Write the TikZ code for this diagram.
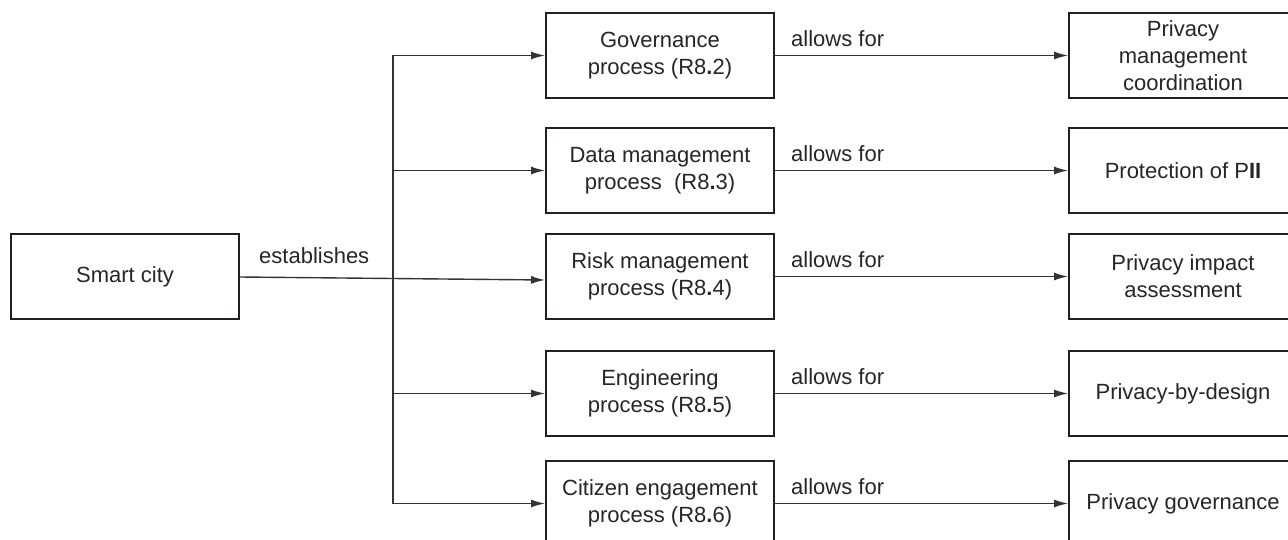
\documentclass[tikz,border=0pt]{standalone}
\usepackage{fontspec}
\setmainfont{Liberation Sans}
\usetikzlibrary{arrows.meta}
\definecolor{boxline}{HTML}{231F20}
\definecolor{arrline}{HTML}{333333}
\tikzset{
  box/.style={draw=boxline, line width=2pt, rectangle, minimum width=228pt, minimum height=85pt, inner sep=0pt, align=center, text=black!85},
  arr/.style={draw=arrline, line width=1.4pt, -{Latex[length=14pt,width=8pt]}},
  ln/.style={draw=arrline, line width=1.4pt},
  lbl/.style={anchor=base west, inner sep=0pt, text=black!85}
}
\begin{document}
\begin{tikzpicture}[x=1pt,y=-1pt,font=\fontsize{22}{26.8}\selectfont]
\clip (0,0) rectangle (1288,540);
\fill[white] (0,0) rectangle (1288,540);
% left box
\node[box] (sc) at (125,276.5) {Smart city};
% middle boxes
\node[box] (gov) at (660,55.5) {Governance\\process (R8{\bfseries .}2)};
\node[box] (dat) at (660,170.5) {Data management\\process\ \ (R8{\bfseries .}3)};
\node[box] (risk) at (660,276.5) {Risk management\\process (R8{\bfseries .}4)};
\node[box] (eng) at (660,393.5) {Engineering\\process (R8{\bfseries .}5)};
\node[box] (cit) at (660,503.5) {Citizen engagement\\process (R8{\bfseries .}6)};
% right boxes
\node[box] (pmc) at (1183,55.5) {Privacy\\management\\coordination};
\node[box] (pii) at (1183,170.5) {Protection of P{\bfseries II}};
\node[box] (pia) at (1183,276.5) {Privacy impact\\assessment};
\node[box] (pbd) at (1183,393.5) {Privacy-by-design};
\node[box] (pg) at (1183,503.5) {Privacy governance};
% trunk
\coordinate (ttop) at (393,55.5);
\coordinate (tbot) at (393,503.5);
\draw[ln] (ttop) -- (tbot);
\draw[arr] (ttop) -- (gov.west);
\draw[arr] (393,170.5) -- (dat.west);
\draw[arr] (393,393.5) -- (eng.west);
\draw[arr] (tbot) -- (cit.west);
\draw[arr] ([yshift=-0.5pt]sc.east) -- ([yshift=-3.5pt]risk.west);
\node[lbl] (est) at (259,264) {establishes};
% right arrows
\draw[arr] (gov.east) -- (pmc.west);
\draw[arr] (dat.east) -- (pii.west);
\draw[arr] (risk.east) -- (pia.west);
\draw[arr] (eng.east) -- (pbd.west);
\draw[arr] (cit.east) -- (pg.west);
\node[lbl] (a1) at (791,46.5) {allows for};
\node[lbl] (a2) at (791,161.5) {allows for};
\node[lbl] (a3) at (791,267.5) {allows for};
\node[lbl] (a4) at (791,384.5) {allows for};
\node[lbl] (a5) at (791,494.5) {allows for};
\end{tikzpicture}
\end{document}
